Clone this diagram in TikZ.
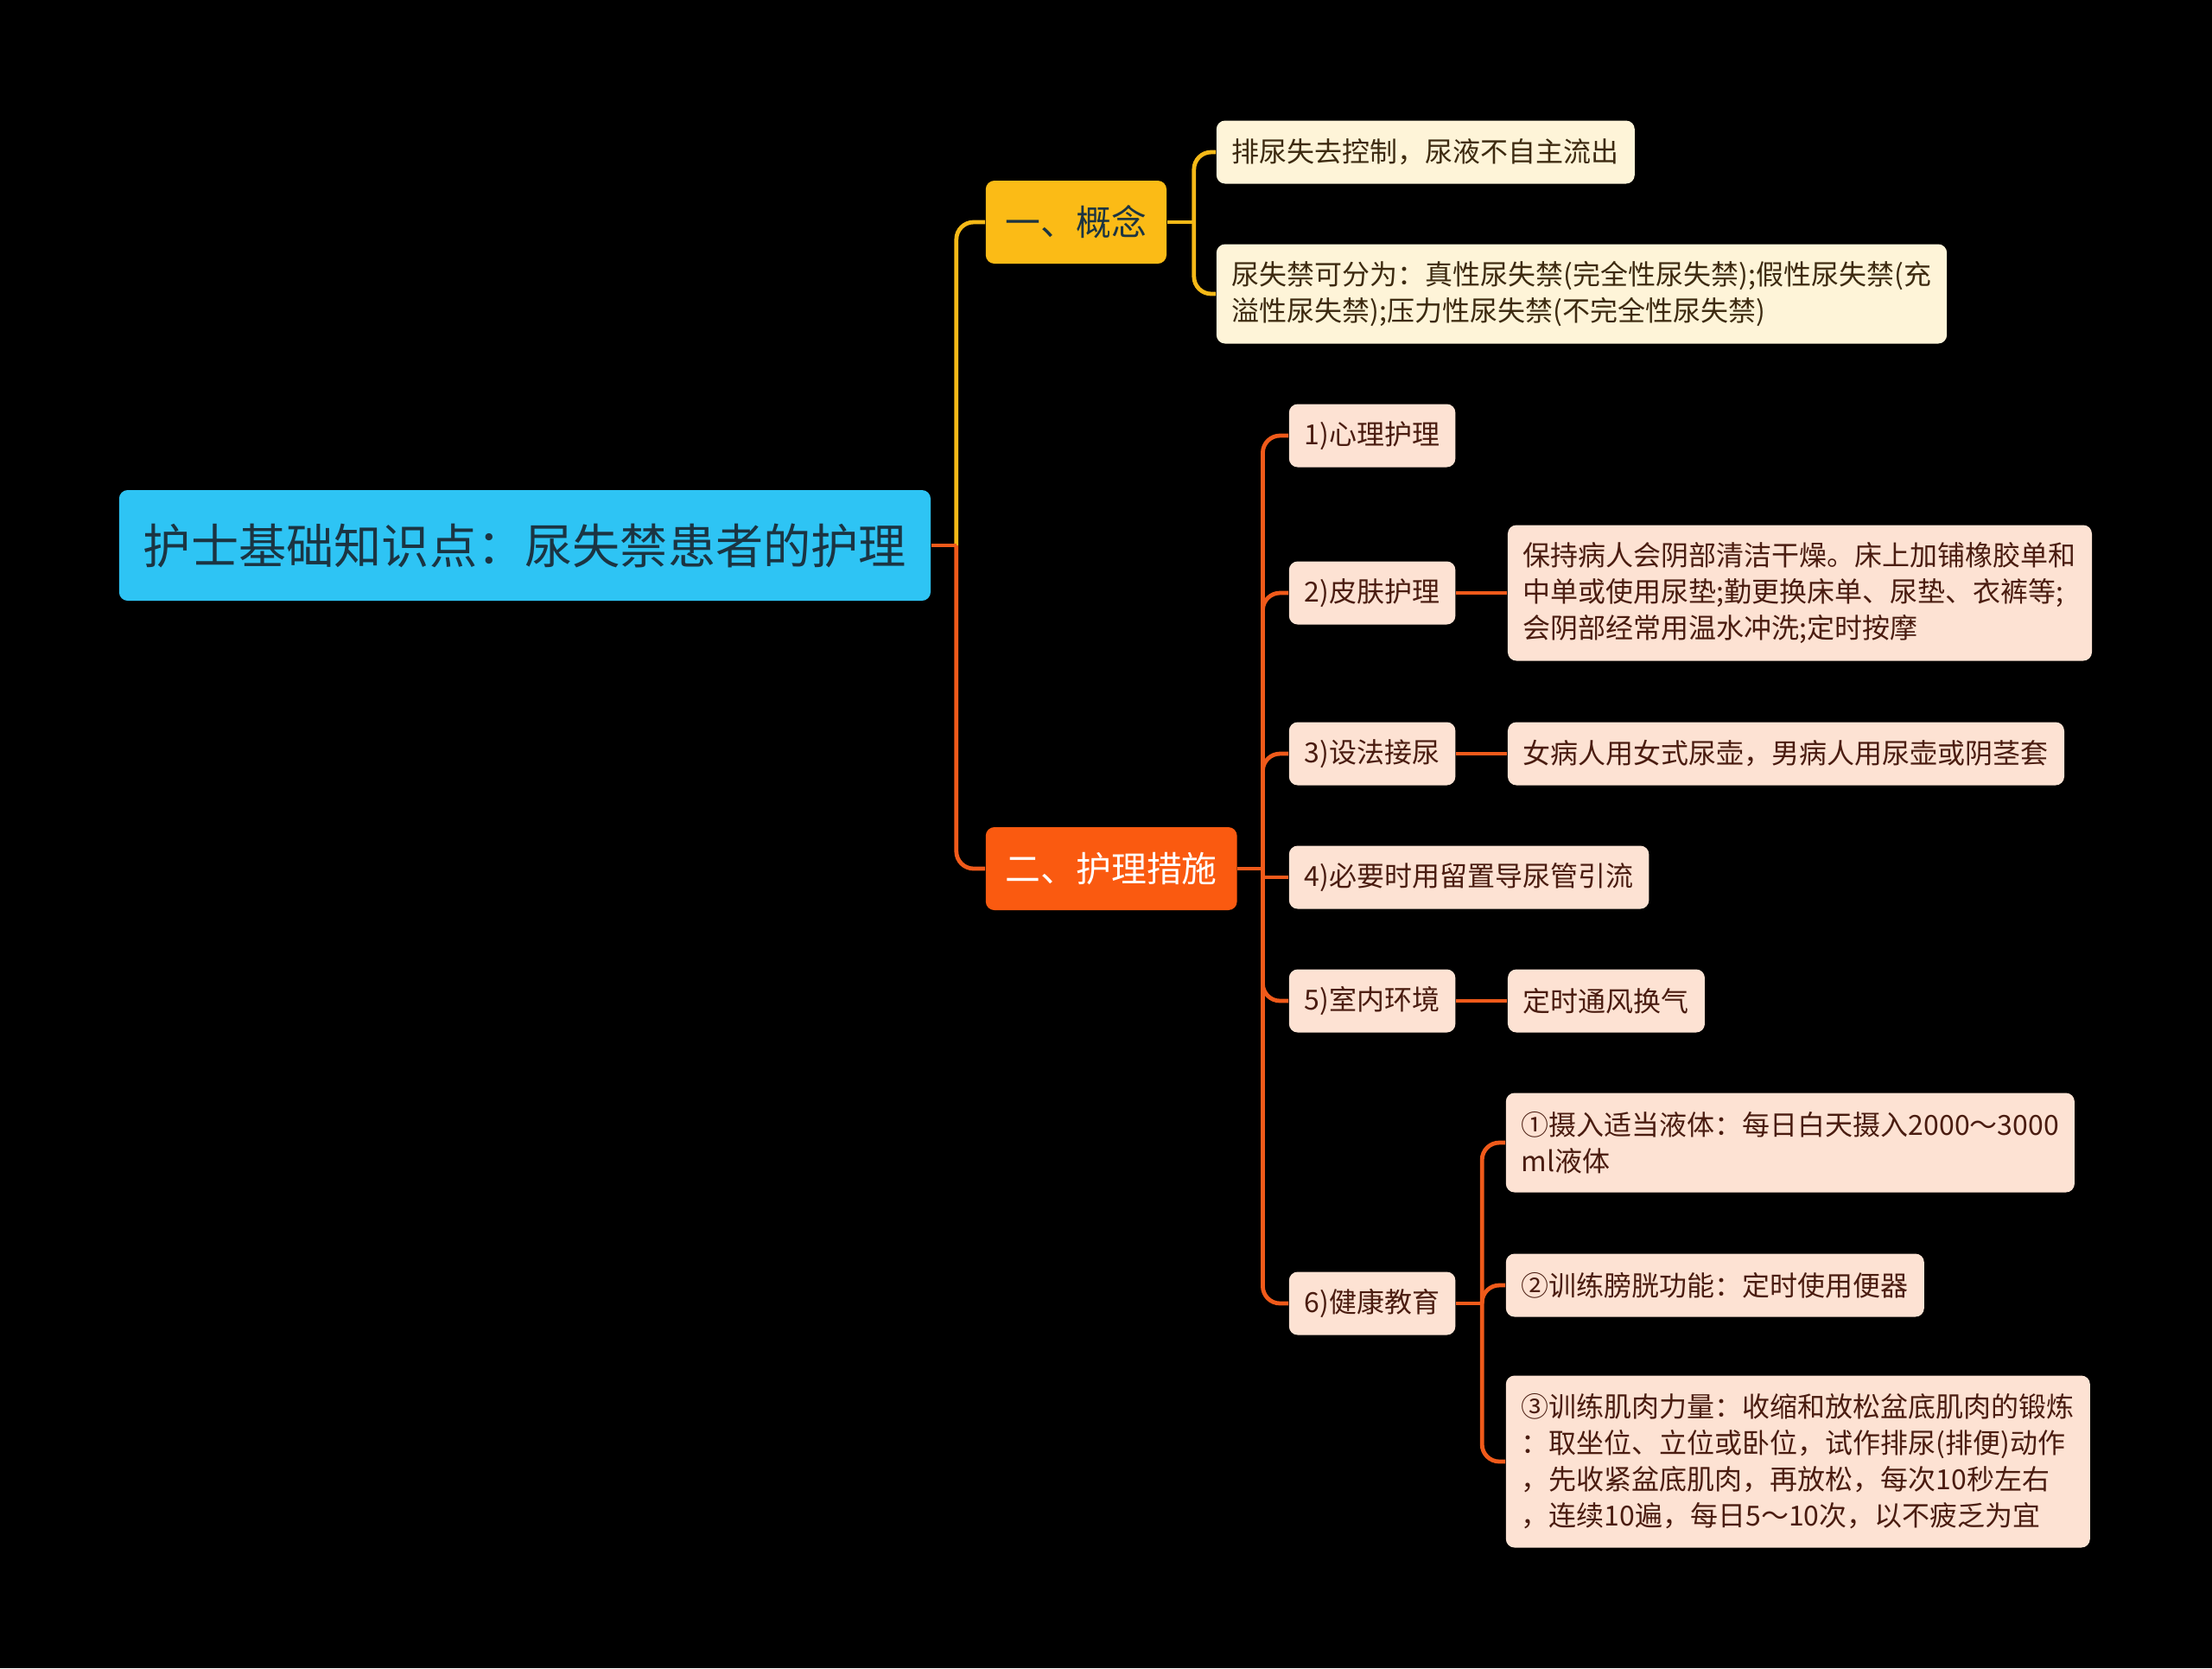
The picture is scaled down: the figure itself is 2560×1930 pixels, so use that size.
\documentclass[tikz,border=0pt]{standalone}
\usepackage{fontspec}
\setmainfont{Noto Sans CJK SC}
\usetikzlibrary{positioning}
\definecolor{bgblack}{HTML}{000000}
\definecolor{rootfill}{HTML}{2EC4F4}
\definecolor{roottext}{HTML}{1B3442}
\definecolor{ideafill}{HTML}{FBBB16}
\definecolor{carefill}{HTML}{FA5A10}
\definecolor{creamfill}{HTML}{FEF4D8}
\definecolor{peachfill}{HTML}{FDE2D3}
\definecolor{browntext}{HTML}{3D2A10}
\definecolor{redtext}{HTML}{4A1C10}
\definecolor{yline}{HTML}{F5B917}
\definecolor{oline}{HTML}{F05A1A}

\begin{document}
\begin{tikzpicture}[x=0.25pt,y=-0.25pt,
  base/.style={rounded corners=2.5pt,inner xsep=5pt,inner ysep=0pt,anchor=west,align=left},
  rootbox/.style={base,fill=rootfill,text=roottext,minimum height=32pt,inner xsep=7pt,
    font=\fontsize{13.8}{16}\selectfont},
  branch/.style={base,minimum height=24pt,inner xsep=5.75pt,font=\fontsize{10.2}{12}\selectfont},
  leaf/.style={base,minimum height=18.25pt,inner xsep=4.5pt,font=\fontsize{8}{10.5}\selectfont},
  idea/.style={leaf,fill=creamfill,text=browntext},
  care/.style={leaf,fill=peachfill,text=redtext},
  ylink/.style={draw=yline,line width=1.2pt,rounded corners=5pt},
  olink/.style={draw=oline,line width=1.2pt,rounded corners=5pt}]
  \fill[bgblack] (0,0) rectangle (2560,1930);
  \useasboundingbox (0,0) rectangle (2560,1930);
  % root and main branches
  \node[rootbox] (root) at (137,631) {护士基础知识点：尿失禁患者的护理};
  \node[branch,fill=ideafill,text=roottext] (idea) at (1140,257) {一、概念};
  \node[branch,fill=carefill,text=white] (care) at (1140,1005) {二、护理措施};
  % concept leaves
  \node[idea] (i1) at (1407,176) {排尿失去控制，尿液不自主流出};
  \node[idea,minimum height=28.75pt] (i2) at (1407,340)
    {尿失禁可分为：真性尿失禁(完全性尿失禁);假性尿失禁(充\\溢性尿失禁);压力性尿失禁(不完全性尿失禁)};
  % nursing measures
  \node[care] (c1) at (1491,504) {1)心理护理};
  \node[care] (c2) at (1491,686) {2)皮肤护理};
  \node[care] (c3) at (1491,872) {3)设法接尿};
  \node[care] (c4) at (1491,1015) {4)必要时用留置导尿管引流};
  \node[care] (c5) at (1491,1158) {5)室内环境};
  \node[care] (c6) at (1491,1508) {6)健康教育};
  \node[care,minimum height=39.25pt,right=14.75pt of c2] (c2a)
    {保持病人会阴部清洁干燥。床上加铺橡胶单和\\中单或使用尿垫;勤更换床单、尿垫、衣裤等;\\会阴部经常用温水冲洗;定时按摩};
  \node[care,right=14.75pt of c3] (c3a) {女病人用女式尿壶，男病人用尿壶或阴茎套};
  \node[care,right=14.75pt of c5] (c5a) {定时通风换气};
  \node[care,minimum height=28.75pt] (c6a) at (1742,1322)
    {①摄入适当液体：每日白天摄入2000～3000\\ml液体};
  \node[care] (c6b) at (1742,1487) {②训练膀胱功能：定时使用便器};
  \node[care,minimum height=49.75pt] (c6c) at (1742,1691)
    {③训练肌肉力量：收缩和放松盆底肌肉的锻炼\\：取坐位、立位或卧位，试作排尿(排便)动作\\，先收紧盆底肌肉，再放松，每次10秒左右\\，连续10遍，每日5～10次，以不疲乏为宜};
  % links
  \draw[ylink] ([xshift=7.25pt]root.east) |- (idea.west);
  \draw[olink] ([xshift=7.25pt]root.east) |- (care.west);
  \draw[olink] (root.east) -- ++(7.25pt,0);
  \foreach \leaf in {i1,i2}
    \draw[ylink] ([xshift=7.75pt]idea.east) |- (\leaf.west);
  \draw[ylink] (idea.east) -- ++(7.75pt,0);
  \foreach \leaf in {c1,c2,c3,c5,c6}
    \draw[olink] ([xshift=7.25pt]care.east) |- (\leaf.west);
  \draw[olink,sharp corners] ([xshift=7.25pt]care.east) |- (c4.west);
  \draw[olink] (care.east) -- ++(7.25pt,0);
  \draw[olink] (c2) -- (c2a);
  \draw[olink] (c3) -- (c3a);
  \draw[olink] (c5) -- (c5a);
  \foreach \leaf in {c6a,c6b,c6c}
    \draw[olink] ([xshift=7.5pt]c6.east) |- (\leaf.west);
  \draw[olink] (c6.east) -- ++(7.5pt,0);
\end{tikzpicture}
\end{document}
